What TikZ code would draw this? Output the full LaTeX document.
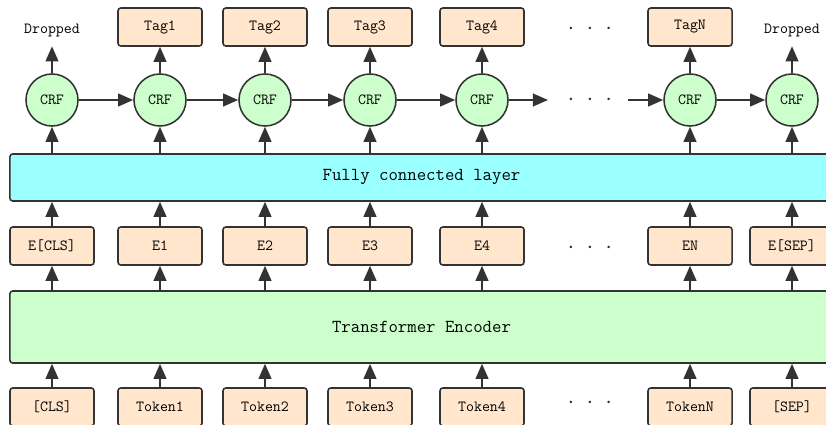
\documentclass[tikz,border=0pt]{standalone}
\usetikzlibrary{arrows.meta}

\definecolor{peach}{HTML}{FFE6CC}
\definecolor{crfgreen}{HTML}{CCFFCC}
\definecolor{fccyan}{HTML}{99FFFF}
\definecolor{linegray}{HTML}{333333}
\newcommand{\skipdots}{{\fontsize{16}{16}\selectfont$\cdot\hspace{4.8pt}\cdot\hspace{4.8pt}\cdot$}}

\begin{document}
\begin{tikzpicture}[>={Triangle[length=3.8mm,width=3.2mm]},x=0.025cm,y=-0.025cm,
    box/.style={draw=linegray,fill=peach,rounded corners=2pt,line width=1.1pt,
                minimum width=2.1cm,minimum height=0.95cm,
                font=\ttfamily\fontsize{11}{13}\selectfont},
    crf/.style={circle,draw=linegray,fill=crfgreen,line width=1.1pt,
                minimum size=1.3cm,inner sep=0pt,
                font=\ttfamily\fontsize{11}{13}\selectfont},
    layer/.style={draw=linegray,rounded corners=2pt,line width=1.1pt,
                minimum width=20.575cm,font=\ttfamily\fontsize{13}{15}\selectfont},
    word/.style={minimum height=0.8cm,font=\ttfamily\fontsize{11}{13}\selectfont},
    skip/.style={text=linegray},
    arrow/.style={->,draw=linegray,line width=1.4pt}]
    \useasboundingbox (0,0) rectangle (826,425);

    % tags
    \node[word]  (g1) at (52,30)  {Dropped};
    \node[box]   (g2) at (160,27) {Tag1};
    \node[box]   (g3) at (265,27) {Tag2};
    \node[box]   (g4) at (370,27) {Tag3};
    \node[box]   (g5) at (482,27) {Tag4};
    \node[skip]  (d1) at (590,29) {\skipdots};
    \node[box]   (g6) at (690,27) {TagN};
    \node[word]  (g7) at (792,30) {Dropped};

    % crf layer
    \node[crf] (c1) at (52,100)  {CRF};
    \node[crf] (c2) at (160,100) {CRF};
    \node[crf] (c3) at (265,100) {CRF};
    \node[crf] (c4) at (370,100) {CRF};
    \node[crf] (c5) at (482,100) {CRF};
    \node[skip] (d2) at (590,100) {\skipdots};
    \node[crf] (c6) at (690,100) {CRF};
    \node[crf] (c7) at (792,100) {CRF};
    \coordinate (a) at (548,100);
    \coordinate (b) at (628,100);

    \node[layer,fill=fccyan,minimum height=1.175cm] (fc) at (421.5,177.5) {Fully connected layer};

    % embeddings
    \node[box] (e1) at (52,246)  {E[CLS]};
    \node[box] (e2) at (160,246) {E1};
    \node[box] (e3) at (265,246) {E2};
    \node[box] (e4) at (370,246) {E3};
    \node[box] (e5) at (482,246) {E4};
    \node[skip] (d3) at (590,248) {\skipdots};
    \node[box] (e6) at (690,246) {EN};
    \node[box] (e7) at (792,246) {E[SEP]};

    \node[layer,fill=crfgreen,minimum height=1.8cm] (enc) at (421.5,327) {Transformer Encoder};

    % tokens
    \node[box] (t1) at (52,407)  {[CLS]};
    \node[box] (t2) at (160,407) {Token1};
    \node[box] (t3) at (265,407) {Token2};
    \node[box] (t4) at (370,407) {Token3};
    \node[box] (t5) at (482,407) {Token4};
    \node[skip] (d4) at (590,403) {\skipdots};
    \node[box] (t6) at (690,407) {TokenN};
    \node[box] (t7) at (792,407) {[SEP]};

    \foreach \i in {1,...,7} {
        \draw[arrow] (t\i) -- (t\i |- enc.south);
        \draw[arrow] (e\i |- enc.north) -- (e\i);
        \draw[arrow] (e\i) -- (e\i |- fc.south);
        \draw[arrow] (c\i |- fc.north) -- (c\i);
        \draw[arrow] (c\i) -- (g\i);
    }

    \path[every edge/.append style={arrow}]
              (c1) edge (c2)
              (c2) edge (c3)
              (c3) edge (c4)
              (c4) edge (c5)
              (c5) edge (a)
              (b)  edge (c6)
              (c6) edge (c7);

\end{tikzpicture}
\end{document}
